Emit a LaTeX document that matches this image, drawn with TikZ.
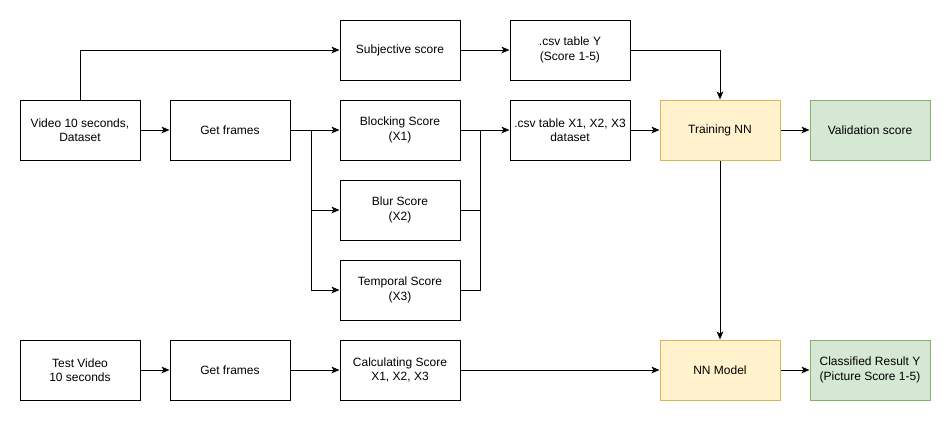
\documentclass[tikz,border=0pt]{standalone}
\usepackage{fontspec}
\setmainfont{Liberation Sans}
\usetikzlibrary{arrows.meta}
\pgfdeclarelayer{nodelayer}
\pgfdeclarelayer{edgelayer}
\pgfsetlayers{edgelayer,nodelayer,main}
\definecolor{nnfill}{HTML}{FFF2CC}
\definecolor{nndraw}{HTML}{D6B656}
\definecolor{okfill}{HTML}{D5E8D4}
\definecolor{okdraw}{HTML}{82B366}
\tikzstyle{box}=[fill=white, draw=black, shape=rectangle, line width=0.75pt, minimum width=90pt, minimum height=45pt, align=center, inner sep=1pt, font=\fontsize{9}{10.8}\selectfont]
\tikzstyle{nn box}=[box, fill=nnfill, draw=nndraw]
\tikzstyle{result box}=[box, fill=okfill, draw=okdraw]
\tikzstyle{directed edge}=[-{Stealth[length=6pt,width=5pt,inset=1.5pt]}, line width=0.75pt]
\tikzstyle{plain edge}=[line width=0.75pt]

\begin{document}
\begin{tikzpicture}[x=0.75pt, y=-0.75pt]
	\useasboundingbox (0, 0) rectangle (951, 421);
	\begin{pgfonlayer}{nodelayer}
		\node [style=box] (0) at (80, 130) {Video 10 seconds,\\Dataset};
		\node [style=box] (1) at (230, 130) {Get frames};
		\node [style=box] (2) at (400, 50) {Subjective score};
		\node [style=box] (3) at (570, 50) {.csv table Y\\(Score 1-5)};
		\node [style=box] (4) at (400, 130) {Blocking Score\\(X1)};
		\node [style=box] (5) at (400, 210) {Blur Score\\(X2)};
		\node [style=box] (6) at (400, 290) {Temporal Score\\(X3)};
		\node [style=box] (7) at (570, 130) {.csv table X1, X2, X3\\dataset};
		\node [style=nn box] (8) at (720, 130) {Training NN};
		\node [style=result box] (9) at (870, 130) {Validation score};
		\node [style=box] (10) at (80, 370) {Test Video\\10 seconds};
		\node [style=box] (11) at (230, 370) {Get frames};
		\node [style=box] (12) at (400, 370) {Calculating Score\\X1, X2, X3};
		\node [style=nn box] (13) at (720, 370) {NN Model};
		\node [style=result box] (14) at (870, 370) {Classified Result Y\\(Picture Score 1-5)};
		\coordinate (s) at (311, 130);
		\coordinate (m) at (480, 130);
	\end{pgfonlayer}
	\begin{pgfonlayer}{edgelayer}
		\draw [style=directed edge] (0.north) |- (2.west);
		\draw [style=directed edge] (0) to (1);
		\draw [style=directed edge] (1) to (4);
		\draw [style=directed edge] (s) |- (5.west);
		\draw [style=directed edge] (s) |- (6.west);
		\draw [style=directed edge] (4) to (7);
		\draw [style=plain edge] (5.east) -| (m);
		\draw [style=plain edge] (6.east) -| (m);
		\draw [style=directed edge] (2) to (3);
		\draw [style=directed edge] (3.east) -| (8.north);
		\draw [style=directed edge] (7) to (8);
		\draw [style=directed edge] (8) to (9);
		\draw [style=directed edge] (8) to (13);
		\draw [style=directed edge] (10) to (11);
		\draw [style=directed edge] (11) to (12);
		\draw [style=directed edge] (12) to (13);
		\draw [style=directed edge] (13) to (14);
	\end{pgfonlayer}
\end{tikzpicture}
\end{document}
